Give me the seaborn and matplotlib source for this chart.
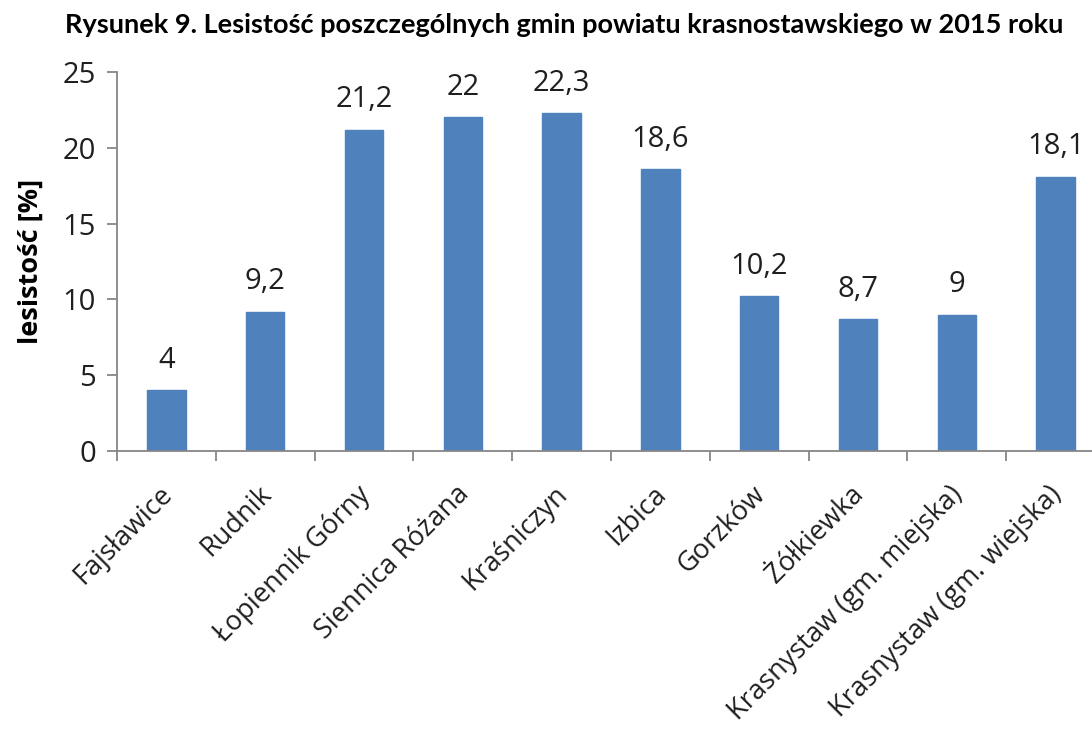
import matplotlib
matplotlib.use("Agg")
import matplotlib.pyplot as plt
import matplotlib.transforms as mtransforms
import seaborn as sns
import pandas as pd
import numpy as np

categories = ["Fajsławice", "Rudnik", "Łopiennik Górny", "Siennica Różana", "Kraśniczyn",
              "Izbica", "Gorzków", "Żółkiewka", "Krasnystaw (gm. miejska)", "Krasnystaw (gm. wiejska)"]
values = [4, 9.2, 21.2, 22, 22.3, 18.6, 10.2, 8.7, 9, 18.1]
value_labels = ["4", "9,2", "21,2", "22", "22,3", "18,6", "10,2", "8,7", "9", "18,1"]
yticks = [0, 5, 10, 15, 20, 25]

sns.set_theme(style="white")
plt.rcParams['font.family'] = ['Open Sans', 'DejaVu Sans']

df = pd.DataFrame({"gmina": categories, "lesistosc": values})

fig = plt.figure(figsize=(10.92, 7.31), dpi=100)
ax = fig.add_axes([117/1092, 1-451/731, 988/1092, (451-72)/731])
sns.barplot(data=df, x="gmina", y="lesistosc", color="#4F81BD", width=0.39,
            saturation=1, ax=ax, edgecolor="#4F81BD")

gray = "#868686"
txt = "#1f1f1f"
ax.set_ylim(0, 25)
ax.set_xlim(-0.5, len(categories) - 0.5)
ax.set_yticks(yticks)
ax.set_yticklabels([str(t) for t in yticks], fontsize=21, color=txt)
for s in ["top", "right"]:
    ax.spines[s].set_visible(False)
for s in ["left", "bottom"]:
    ax.spines[s].set_color(gray)
    ax.spines[s].set_linewidth(1.3)

ax.set_xticks(np.arange(len(categories)))
ax.set_xticklabels(categories, rotation=45, ha="right", rotation_mode="anchor",
                   fontsize=19.5, color=txt)
ax.tick_params(axis="x", length=0, pad=21)
shift = mtransforms.ScaledTranslation(-8/100, 0, fig.dpi_scale_trans)
for lab in ax.get_xticklabels():
    lab.set_transform(lab.get_transform() + shift)
ax.set_xticks(np.arange(len(categories) + 1) - 0.5, minor=True)
ax.tick_params(axis="x", which="minor", length=7, width=1.3, color=gray, direction="out", bottom=True)
ax.tick_params(axis="y", length=7, width=1.3, color=gray, direction="out", left=True, pad=8)

ax.set_xlabel("")
ax.set_ylabel("lesistość [%]", fontsize=19.5, fontweight="bold", labelpad=14, color="black")

for i, (v, lab) in enumerate(zip(values, value_labels)):
    ax.annotate(lab, (i, v), xytext=(0, 16), textcoords="offset points",
                ha="center", va="baseline", fontsize=21, color=txt)

fig.text(0.517, 1 - 25/731, "Rysunek 9. Lesistość poszczególnych gmin powiatu krasnostawskiego w 2015 roku",
         ha="center", va="center", fontsize=19.5, fontweight="bold", color="black",
         family=["Lato", "DejaVu Sans"])

fig.savefig("out.png", dpi=100)
